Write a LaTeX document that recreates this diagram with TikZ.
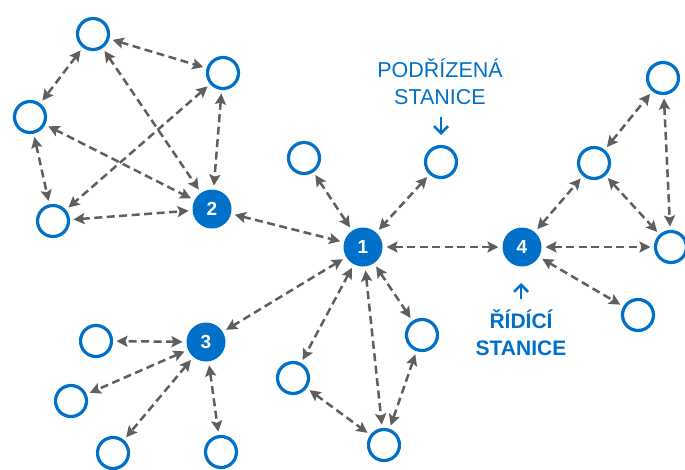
\documentclass[tikz,border=0pt]{standalone}
\usepackage{fontspec}
\setmainfont{Liberation Sans}
\usetikzlibrary{arrows.meta}
\definecolor{netblue}{HTML}{0070C8}
\definecolor{arrgray}{HTML}{5F5F5F}
\begin{document}
\begin{tikzpicture}[x=1pt,y=-1pt,
  hollow/.style={circle,draw=netblue,line width=3.2pt,fill=white,minimum size=31pt,inner sep=0pt,outer sep=5pt},
  hub/.style={circle,fill=netblue,minimum size=39pt,inner sep=0pt,outer sep=4pt,text=white,font=\bfseries\fontsize{19}{19}\selectfont},
  link/.style={arrgray,line width=2.5pt,dash pattern=on 8pt off 4.5pt,{Stealth[length=11pt,width=11pt,inset=2pt]}-{Stealth[length=11pt,width=11pt,inset=2pt]}},
  lbl/.style={text=netblue,align=center,font=\fontsize{21.5}{27}\selectfont},
  pointer/.style={netblue,line width=2.6pt,-{Straight Barb[length=7pt,width=14pt]}}
]
\useasboundingbox (0,0) rectangle (685,469);
% hubs
\node[hub] (n1) at (363,247) {1};
\node[hub] (n2) at (212,209) {2};
\node[hub] (n3) at (206,342) {3};
\node[hub] (n4) at (522,247) {4};
% hollow stations
\node[hollow] (a) at (93,34) {};
\node[hollow] (b) at (223,73) {};
\node[hollow] (c) at (30,117) {};
\node[hollow] (d) at (53,221) {};
\node[hollow] (e) at (304,158) {};
\node[hollow] (f) at (441,162) {};
\node[hollow] (g) at (663,78) {};
\node[hollow] (h) at (594,163) {};
\node[hollow] (i) at (671,247) {};
\node[hollow] (j) at (638,315) {};
\node[hollow] (k) at (96,341) {};
\node[hollow] (l) at (71,401) {};
\node[hollow] (m) at (113,453) {};
\node[hollow] (nn) at (221,452) {};
\node[hollow] (o) at (293,378) {};
\node[hollow] (p) at (422,335) {};
\node[hollow] (q) at (384,445) {};
% links
\foreach \u/\v in {a/b,a/c,a/n2,b/n2,b/d,c/n2,c/d,d/n2,n2/n1,e/n1,f/n1,n1/n4,n1/n3,n1/o,n1/q,n1/p,o/q,p/q,n4/h,n4/i,n4/j,h/g,h/i,g/i,n3/k,n3/l,n3/m,n3/nn}
  \draw[link] (\u) -- (\v);
% labels
\node[lbl] (sub) at (440,82) {PODŘÍZENÁ\\STANICE};
\node[lbl,font=\bfseries\fontsize{21}{27}\selectfont] (ctrl) at (521,333) {ŘÍDÍCÍ\\STANICE};
\coordinate (subtail) at (441,117);
\coordinate (subtip) at (441,135);
\coordinate (ctrltail) at (521,299);
\coordinate (ctrltip) at (521,283);
\draw[pointer] (subtail) -- (subtip);
\draw[pointer] (ctrltail) -- (ctrltip);
\end{tikzpicture}
\end{document}
